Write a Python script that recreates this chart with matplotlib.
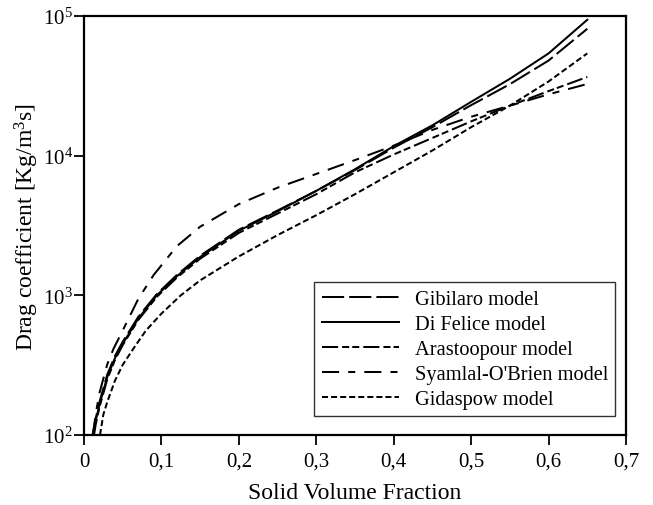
import math
import matplotlib
matplotlib.use('Agg')
import matplotlib.pyplot as plt
from matplotlib.ticker import FixedLocator, FuncFormatter, NullLocator

plt.rcParams['font.family'] = ['Liberation Serif', 'DejaVu Serif']
plt.rcParams['mathtext.fontset'] = 'custom'
plt.rcParams['mathtext.rm'] = 'Liberation Serif'
plt.rcParams['mathtext.it'] = 'Liberation Serif:italic'

# curves (solid volume fraction, drag coefficient)
gibilaro_x = [0.011, 0.015, 0.02, 0.03, 0.04, 0.05, 0.07, 0.094, 0.12, 0.15, 0.2,
              0.25, 0.3, 0.35, 0.4, 0.45, 0.5, 0.55, 0.6, 0.65]
gibilaro_y = [100, 130, 172, 270, 368, 465, 700, 1020, 1400, 1920, 2950,
              4050, 5600, 7900, 11400, 16000, 23000, 32500, 48000, 81000]

difelice_x = [0.012, 0.015, 0.02, 0.03, 0.04, 0.05, 0.07, 0.094, 0.12, 0.15, 0.2,
              0.25, 0.3, 0.35, 0.4, 0.45, 0.5, 0.55, 0.6, 0.65]
difelice_y = [100, 125, 165, 260, 355, 450, 680, 1000, 1370, 1880, 2900,
              4000, 5600, 8000, 11700, 16500, 24300, 35500, 54000, 94000]

arastoopour_x = [0.013, 0.015, 0.02, 0.03, 0.04, 0.05, 0.07, 0.094, 0.12, 0.15, 0.2,
                 0.25, 0.3, 0.35, 0.4, 0.45, 0.5, 0.55, 0.6, 0.65]
arastoopour_y = [100, 118, 158, 250, 345, 440, 665, 975, 1340, 1830, 2800,
                 3850, 5300, 7600, 10200, 13400, 17600, 22800, 29000, 36600]

syamlal_x = [0.0116, 0.015, 0.02, 0.03, 0.038, 0.05, 0.07, 0.09, 0.12, 0.15, 0.2,
             0.25, 0.3, 0.35, 0.4, 0.45, 0.5, 0.55, 0.6, 0.65]
syamlal_y = [100, 140, 200, 320, 413, 560, 940, 1400, 2250, 3100, 4500,
             5900, 7400, 9300, 11800, 15300, 19000, 22800, 27500, 32600]

gidaspow_x = [0.0207, 0.025, 0.03, 0.04, 0.05, 0.065, 0.08, 0.1, 0.125, 0.15, 0.2,
              0.25, 0.3, 0.35, 0.4, 0.45, 0.5, 0.55, 0.6, 0.65]
gidaspow_y = [100, 140, 172, 245, 318, 425, 560, 740, 1000, 1280, 1900,
              2700, 3750, 5300, 7600, 10900, 16000, 22800, 34000, 54000]

x_ticks = [0, 0.1, 0.2, 0.3, 0.4, 0.5, 0.6, 0.7]
y_ticks = [1e2, 1e3, 1e4, 1e5]

fig = plt.figure(figsize=(6.53, 5.06), dpi=100)
ax = fig.add_axes([0.1286, 0.1383, 0.8301, 0.8281])

lw = 1.45
ax.plot(gibilaro_x, gibilaro_y, color='black', lw=lw, linestyle=(0, (11, 2.5)),
        label='Gibilaro model')
ax.plot(difelice_x, difelice_y, color='black', lw=lw, linestyle='-',
        label='Di Felice model')
ax.plot(arastoopour_x, arastoopour_y, color='black', lw=lw,
        linestyle=(0, (8, 2, 3.5, 1.5, 3.5, 2)), label='Arastoopour model')
ax.plot(syamlal_x, syamlal_y, color='black', lw=lw,
        linestyle=(0, (8.5, 4.5, 3.5, 4.5)), label="Syamlal-O'Brien model")
ax.plot(gidaspow_x, gidaspow_y, color='black', lw=lw, linestyle=(0, (3, 1.5)),
        label='Gidaspow model')

ax.set_yscale('log')
ax.set_xlim(0, 0.7)
ax.set_ylim(1e2, 1e5)
ax.xaxis.set_major_locator(FixedLocator(x_ticks))
ax.xaxis.set_major_formatter(FuncFormatter(
    lambda v, p: '0' if v == 0 else ('%.1f' % v).replace('.', ',')))
ax.yaxis.set_major_locator(FixedLocator(y_ticks))
ax.yaxis.set_minor_locator(NullLocator())
ax.yaxis.set_major_formatter(FuncFormatter(
    lambda v, p: r'$\mathregular{10^{%d}}$' % round(math.log10(v))))

ax.tick_params(axis='both', which='major', direction='out', length=7, width=1.3,
               labelsize=15, top=False, right=False)
ax.tick_params(axis='x', pad=5)
ax.tick_params(axis='y', pad=1)
for s in ax.spines.values():
    s.set_linewidth(1.6)

ax.set_xlabel('Solid Volume Fraction', fontsize=17, labelpad=8)
ax.set_ylabel(r'Drag coefficient [Kg/m$^3$s]', fontsize=17, labelpad=1)

leg = ax.legend(loc='lower right', bbox_to_anchor=(0.9797, 0.0453), fontsize=14.7,
                frameon=True, fancybox=False, handlelength=3.8, handletextpad=0.75,
                labelspacing=0.28, borderpad=0.35, borderaxespad=0)
leg.get_frame().set_edgecolor('black')
leg.get_frame().set_linewidth(1.0)

fig.savefig('out.png', dpi=100)
